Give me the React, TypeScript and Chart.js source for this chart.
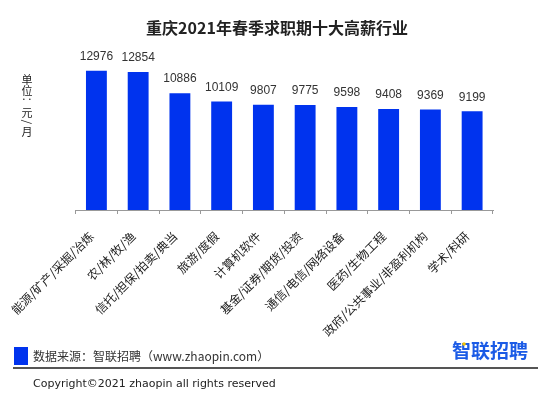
import React, { useEffect, useRef } from "react";
import { Chart, registerables } from "chart.js";

Chart.register(...registerables);

const categories = [
  "能源/矿产/采掘/冶炼",
  "农/林/牧/渔",
  "信托/担保/拍卖/典当",
  "旅游/度假",
  "计算机软件",
  "基金/证券/期货/投资",
  "通信/电信/网络设备",
  "医药/生物工程",
  "政府/公共事业/非盈利机构",
  "学术/科研",
];
const salaries = [12976, 12854, 10886, 10109, 9807, 9775, 9598, 9408, 9369, 9199];
const titleText = "重庆2021年春季求职期十大高薪行业";
const unitChars = ["单", "位", "：", "元", "/", "月"];
const sourceText = "数据来源：智联招聘（www.zhaopin.com）";
const logoText = "智联招聘";
const copyrightText = "Copyright©2021 zhaopin all rights reserved";

const BAR = "#0033ee";

const extras = {
  id: "extras",
  afterDatasetsDraw(chart: any) {
    const ctx = chart.ctx;
    const meta = chart.getDatasetMeta(0);
    ctx.save();
    ctx.fillStyle = "#333";
    ctx.font = "12px 'Liberation Sans', Arial, sans-serif";
    ctx.textAlign = "center";
    ctx.textBaseline = "middle";
    meta.data.forEach((el: any, i: number) => {
      ctx.fillText(String(salaries[i]), el.x, el.y - 14);
    });
    ctx.restore();
  },
  afterDraw(chart: any) {
    const ctx = chart.ctx;
    ctx.save();
    // title
    ctx.fillStyle = "#222";
    ctx.font = "bold 16px 'Noto Sans CJK SC', sans-serif";
    ctx.textAlign = "center";
    ctx.textBaseline = "middle";
    ctx.fillText(titleText, 277, 28);
    // unit label (stacked vertical)
    ctx.font = "11px 'Noto Sans CJK SC', sans-serif";
    ctx.fillStyle = "#222";
    const ys = [80, 91, 102, 113, 122, 132];
    unitChars.forEach((c, i) => {
      if (c === "/" || c === "：") {
        ctx.save();
        ctx.translate(27, ys[i]);
        ctx.rotate(Math.PI / 2);
        ctx.fillText(c, 0, 0);
        ctx.restore();
      } else {
        ctx.fillText(c, 27, ys[i]);
      }
    });
    // footer
    ctx.fillStyle = BAR;
    ctx.fillRect(14, 347, 14, 18);
    ctx.fillStyle = "#333";
    ctx.textAlign = "left";
    ctx.font = "12px 'Noto Sans CJK SC', sans-serif";
    ctx.fillText(sourceText, 33, 356);
    ctx.fillStyle = "#1b5be6";
    ctx.font = "bold 19px 'Noto Sans CJK SC', sans-serif";
    ctx.fillText(logoText, 452, 351);
    ctx.fillStyle = "#f5c400";
    ctx.beginPath();
    ctx.arc(464, 344, 1.8, 0, Math.PI * 2);
    ctx.fill();
    ctx.strokeStyle = "#555";
    ctx.lineWidth = 2;
    ctx.beginPath();
    ctx.moveTo(13, 368);
    ctx.lineTo(538, 368);
    ctx.stroke();
    ctx.fillStyle = "#222";
    ctx.font = "11px 'DejaVu Sans', sans-serif";
    ctx.fillText(copyrightText, 33, 384);
    ctx.restore();
  },
};

export default function App() {
  const ref = useRef<HTMLCanvasElement>(null);
  useEffect(() => {
    document.body.style.margin = "0";
    const chart = new Chart(ref.current!, {
      type: "bar",
      data: {
        labels: categories,
        datasets: [
          {
            data: salaries,
            backgroundColor: BAR,
            categoryPercentage: 1,
            barPercentage: 0.5,
          },
        ],
      },
      options: {
        animation: false,
        responsive: false,
        layout: { padding: { left: 71, right: 57, top: 49, bottom: 0 } },
        plugins: { legend: { display: false }, tooltip: { enabled: false }, title: { display: false } },
        scales: {
          y: { display: false, min: 0, max: 15000 },
          x: {
            afterFit: (s: any) => {
              s.height = 188;
            },
            grid: { drawOnChartArea: false, offset: true, tickLength: 4, color: "#999" },
            border: { color: "#999" },
            ticks: {
              minRotation: 45,
              maxRotation: 45,
              autoSkip: false,
              color: "#222",
              padding: 15,
              labelOffset: -5,
              font: { size: 12, family: "'Noto Sans CJK SC', sans-serif" },
            },
          },
        },
      },
      plugins: [extras],
    });
    return () => chart.destroy();
  }, []);
  return <canvas ref={ref} width={550} height={398} style={{ display: "block" }} />;
}
